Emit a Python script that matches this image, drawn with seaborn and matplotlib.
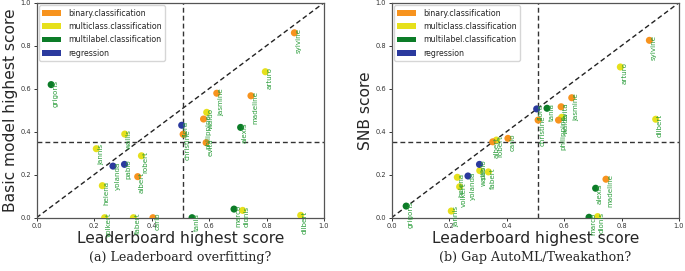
import matplotlib
matplotlib.use("Agg")
import matplotlib.pyplot as plt
import seaborn as sns
import pandas as pd
from matplotlib.patches import Patch

# ---- data ----
datasets = ["grigoris", "sylvine", "arturo", "jasmine", "madeline", "waldo",
            "philippine", "evita", "christine", "flora", "alexis", "jannis",
            "wallis", "yolanda", "pablo", "robert", "albert", "helena",
            "volkert", "fabert", "carlo", "tania", "marco", "dionis", "dilbert"]
tasks = ["multilabel", "binary", "multiclass", "binary", "binary", "multiclass",
         "binary", "binary", "binary", "regression", "multilabel", "multiclass",
         "multiclass", "regression", "regression", "multiclass", "binary", "multiclass",
         "multiclass", "multiclass", "binary", "multilabel", "multilabel", "multiclass", "multiclass"]
leaderboard = [0.051, 0.897, 0.796, 0.627, 0.746, 0.592,
               0.581, 0.590, 0.510, 0.505, 0.710, 0.208,
               0.307, 0.266, 0.306, 0.365, 0.352, 0.229,
               0.237, 0.337, 0.405, 0.541, 0.687, 0.717, 0.919]
basic_model = [0.619, 0.860, 0.679, 0.579, 0.567, 0.490,
               0.459, 0.349, 0.388, 0.430, 0.420, 0.321,
               0.389, 0.240, 0.248, 0.288, 0.191, 0.149,
               0.000, 0.000, 0.000, 0.000, 0.040, 0.034, 0.011]
snb_score = [0.054, 0.825, 0.701, 0.558, 0.179, 0.467,
             0.454, 0.516, 0.454, 0.506, 0.137, 0.031,
             0.219, 0.194, 0.248, 0.361, 0.353, 0.188,
             0.144, 0.213, 0.369, 0.509, 0.002, 0.005, 0.458]
legend_labels = ["binary.classification", "multiclass.classification",
                 "multilabel.classification", "regression"]
task_keys = ["binary", "multiclass", "multilabel", "regression"]
hline_y = 0.352
vline_x = 0.51
ticks = [0.0, 0.2, 0.4, 0.6, 0.8, 1.0]
tick_labels = ["0.0", "0.2", "0.4", "0.6", "0.8", "1.0"]

df = pd.DataFrame({"name": datasets, "task": tasks, "lb": leaderboard,
                   "basic": basic_model, "snb": snb_score})

colors = {"binary": "#f7931e", "multiclass": "#e6e01c",
          "multilabel": "#0c7c28", "regression": "#2b3a9e"}
label_color = "#2a9d3a"

sns.set_theme(style="ticks")
plt.rcParams["font.family"] = ["DejaVu Sans"]

fig = plt.figure(figsize=(6.85, 2.71), dpi=100)
W, H = 685, 271
ax1 = fig.add_axes([36.5 / W, (H - 217.7) / H, 287.5 / W, 215 / H])
ax2 = fig.add_axes([391.5 / W, (H - 217.7) / H, 287.5 / W, 215 / H])


def draw(ax, ycol, ylabel):
    ax.plot([0, 1], [0, 1], ls=(0, (3.5, 2.2)), color="#222222", lw=1.0, zorder=1)
    ax.axhline(hline_y, ls=(0, (3.5, 2.2)), color="#333333", lw=1.0, zorder=1)
    ax.axvline(vline_x, ls=(0, (3.5, 2.2)), color="#333333", lw=1.0, zorder=1)
    sns.scatterplot(data=df, x="lb", y=ycol, hue="task", palette=colors,
                    hue_order=task_keys, s=26, edgecolor="none", legend=False,
                    ax=ax, zorder=3)
    for _, r in df.iterrows():
        ax.annotate(r["name"], (r["lb"], r[ycol]), xytext=(1.0, 3.5),
                    textcoords="offset points", rotation=90, ha="left", va="top",
                    fontsize=5.1, color=label_color, zorder=4)
    ax.set_xlim(0, 1)
    ax.set_ylim(0, 1)
    ax.set_xticks(ticks)
    ax.set_xticklabels(tick_labels)
    ax.set_yticks(ticks)
    ax.set_yticklabels(tick_labels)
    ax.tick_params(labelsize=4.8, length=2.5, width=0.7, pad=1.5, colors="#333333")
    for sp in ax.spines.values():
        sp.set_visible(True)
        sp.set_color("#555555")
        sp.set_linewidth(0.9)
    ax.set_xlabel("Leaderboard highest score", fontsize=11.2, labelpad=1)
    ax.set_ylabel(ylabel, fontsize=11.2, labelpad=2)
    handles = [Patch(facecolor=colors[k], edgecolor="none") for k in task_keys]
    ax.legend(handles, legend_labels, loc="upper left", fontsize=5.7,
              handlelength=2.3, handleheight=0.7, handletextpad=0.9,
              labelspacing=0.55, borderaxespad=0.35, borderpad=0.4,
              frameon=True, edgecolor="#cccccc", framealpha=0.8)


draw(ax1, "basic", "Basic model highest score")
draw(ax2, "snb", "SNB score")

fig.text(180 / W, 1 - 257 / H, "(a) Leaderboard overfitting?", ha="center",
         va="center", fontsize=9.1, family="DejaVu Serif")
fig.text(535 / W, 1 - 257 / H, "(b) Gap AutoML/Tweakathon?", ha="center",
         va="center", fontsize=9.1, family="DejaVu Serif")

fig.savefig("out.png", dpi=100)
